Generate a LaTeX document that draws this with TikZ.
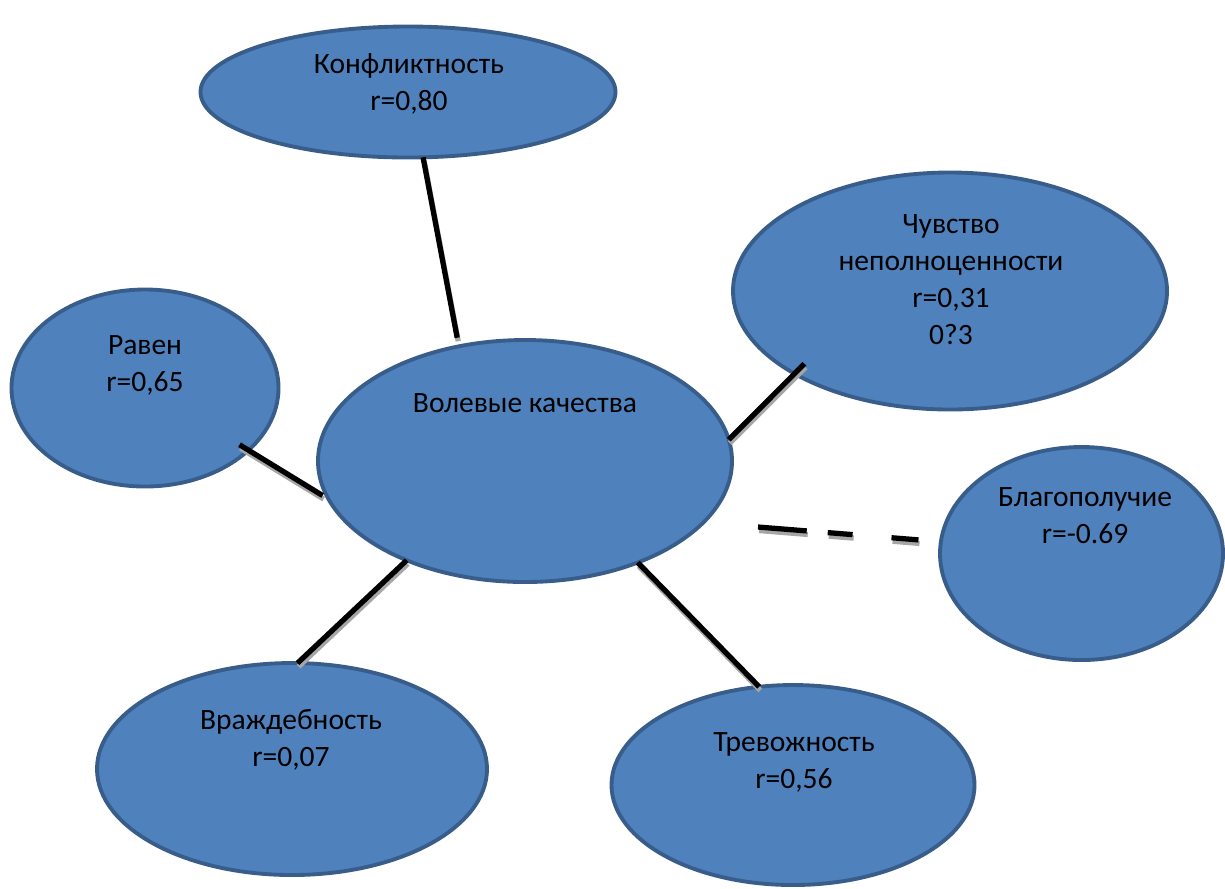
\documentclass[tikz,border=0pt]{standalone}
\usepackage{fontspec}
\setmainfont{Carlito}
\usepackage{tikz}
\usetikzlibrary{shapes.geometric}
\definecolor{ovalfill}{HTML}{4F81BD}
\definecolor{ovalline}{HTML}{385D8A}

\begin{document}
\begin{tikzpicture}[
	oval/.style={ellipse, fill=ovalfill, draw=ovalline, line width=1.1pt, inner sep=0pt, outer sep=0pt},
	lbl/.style={align=center, font=\fontsize{8.4}{10.5}\selectfont},
	link/.style={line width=1.5pt, preaction={draw=black!35, line width=1.5pt, transform canvas={shift={(0.3pt,-1pt)}}}},
	dlink/.style={line width=1.5pt, dash pattern=#1, preaction={draw=black!35, line width=1.5pt, dash pattern=#1, transform canvas={shift={(0.3pt,-1pt)}}}}]
	\useasboundingbox (0,0) rectangle (12.25,-8.88);
	% ovals
	\node[oval, minimum width=4.15cm, minimum height=1.31cm] (kon) at (4.08,-0.92) {};
	\node[oval, minimum width=4.34cm, minimum height=2.37cm] (chu) at (9.50,-2.91) {};
	\node[oval, minimum width=2.67cm, minimum height=1.97cm] (rav) at (1.45,-3.88) {};
	\node[oval, minimum width=4.14cm, minimum height=2.42cm] (vol) at (5.25,-4.61) {};
	\node[oval, minimum width=2.83cm, minimum height=2.13cm] (bla) at (10.815,-5.535) {};
	\node[oval, minimum width=3.90cm, minimum height=2.12cm] (vra) at (2.92,-7.69) {};
	\node[oval, minimum width=3.63cm, minimum height=2.00cm] (tre) at (7.93,-7.85) {};
	% texts
	\node[lbl] (kon-t) at (4.09,-0.835) {Конфликтность\\r=0,80};
	\node[lbl] (chu-t) at (9.51,-2.795) {Чувство\\неполноценности\\r=0,31\\0?3};
	\node[lbl] (rav-t) at (1.45,-3.65) {Равен\\r=0,65};
	\node[lbl] (vol-t) at (5.25,-4.03) {Волевые качества};
	\node[lbl] (bla-t) at (10.85,-5.155) {Благополучие\\r=-0.69};
	\node[lbl] (vra-t) at (2.91,-7.40) {Враждебность\\r=0,07};
	\node[lbl] (tre-t) at (7.94,-7.62) {Тревожность\\r=0,56};
	% links
	\draw[link, shorten >=2.5pt] (kon.-77) -- (vol.120);
	\draw[link, shorten <=-4pt] (chu.208.8) -- (vol.6);
	\draw[link, shorten <=-3pt, shorten >=2pt] (rav.-31) -- (vol.191.4);
	\draw[link] (vol.220) -- (vra.87);
	\draw[link] (vol.-42) -- (tre.109.5);
	\coordinate (d1) at (7.58,-5.27);
	\coordinate (d2) at (9.20,-5.40);
	\draw[dlink={on 13.9pt off 6pt on 7.1pt off 11.1pt on 7.7pt off 20pt}] (d1) -- (d2);
\end{tikzpicture}
\end{document}
